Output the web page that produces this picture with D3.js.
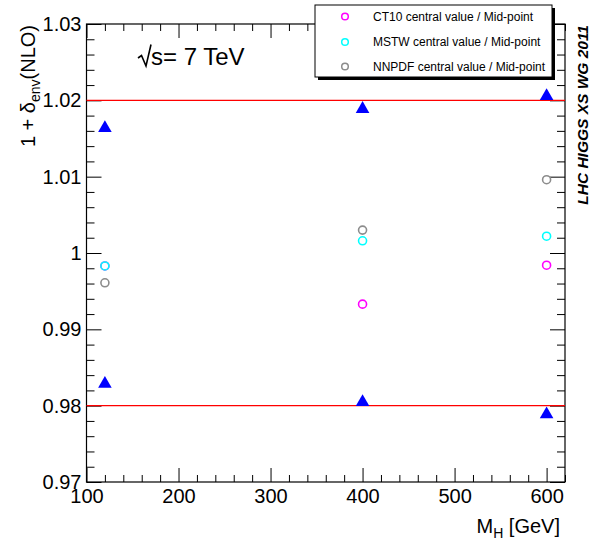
<!DOCTYPE html>
<html><head><meta charset="utf-8">
<script src="https://cdn.jsdelivr.net/npm/d3@7"></script>
<style>body{margin:0;background:#fff}svg{display:block}text{font-family:"Liberation Sans",Arial,Helvetica,sans-serif;fill:#000}</style>
</head><body>
<svg id="c" width="591" height="545"></svg>
<script>
const massPoints = [120, 400, 600];
const upperEnv = [1.0165, 1.0190, 1.0207];
const lowerEnv = [0.9830, 0.9806, 0.9790];
const ct10 = [0.9983, 0.9933, 0.9984];
const mstw = [0.9983, 1.0016, 1.0022];
const nnpdf = [0.9961, 1.0030, 1.0096];
const seriesNames = ["CT10 central value / Mid-point", "MSTW central value / Mid-point", "NNPDF central value / Mid-point"];
const seriesColors = ["#ff00ff", "#00ffff", "#8c8c8c"];
const refLines = [1.02, 0.98];
const xTicks = [100, 200, 300, 400, 500, 600];
const xTickLabels = ["100", "200", "300", "400", "500", "600"];
const yTicks = [0.97, 0.98, 0.99, 1.00, 1.01, 1.02, 1.03];
const yTickLabels = ["0.97", "0.98", "0.99", "1", "1.01", "1.02", "1.03"];

const svg = d3.select("#c");
svg.append("rect").attr("width", 591).attr("height", 545).attr("fill", "#fff");
const L = 86.5, R = 565, T = 24, B = 482;
const x = d3.scaleLinear().domain([100, 620]).range([L, R]);
const y = d3.scaleLinear().domain([0.97, 1.03]).range([B, T]);

const xMinor = d3.range(100, 621, 20).filter(v => v % 100 !== 0);
const yMinor = d3.range(0, 31).map(i => +(0.97 + i * 0.002).toFixed(3)).filter(v => Math.abs(Math.round(v * 100) - v * 100) > 1e-6);

function styleAxis(g) { g.select(".domain").remove(); g.selectAll("line").attr("stroke", "#000"); }

// bottom axis
svg.append("g").attr("transform", `translate(0,${B})`)
  .call(d3.axisBottom(x).tickValues(xTicks).tickSize(-14).tickPadding(7).tickFormat((d, i) => xTickLabels[i]))
  .call(styleAxis).call(g => g.selectAll("text").attr("font-size", 20).attr("font-family", "Liberation Sans, Arial"));
svg.append("g").attr("transform", `translate(0,${B})`)
  .call(d3.axisBottom(x).tickValues(xMinor).tickSize(-7).tickFormat(""))
  .call(styleAxis);
// top axis
svg.append("g").attr("transform", `translate(0,${T})`)
  .call(d3.axisTop(x).tickValues(xTicks).tickSize(-14).tickFormat("")).call(styleAxis);
svg.append("g").attr("transform", `translate(0,${T})`)
  .call(d3.axisTop(x).tickValues(xMinor).tickSize(-7).tickFormat("")).call(styleAxis);
// left axis
svg.append("g").attr("transform", `translate(${L},0)`)
  .call(d3.axisLeft(y).tickValues(yTicks).tickSize(-15).tickPadding(5).tickFormat((d, i) => yTickLabels[i]))
  .call(styleAxis).call(g => g.selectAll("text").attr("font-size", 20).attr("font-family", "Liberation Sans, Arial"));
svg.append("g").attr("transform", `translate(${L},0)`)
  .call(d3.axisLeft(y).tickValues(yMinor).tickSize(-8).tickFormat("")).call(styleAxis);
// right axis
svg.append("g").attr("transform", `translate(${R},0)`)
  .call(d3.axisRight(y).tickValues(yTicks).tickSize(-15).tickFormat("")).call(styleAxis);
svg.append("g").attr("transform", `translate(${R},0)`)
  .call(d3.axisRight(y).tickValues(yMinor).tickSize(-8).tickFormat("")).call(styleAxis);

// frame
svg.append("rect").attr("x", L).attr("y", T).attr("width", R - L).attr("height", B - T)
  .attr("fill", "none").attr("stroke", "#000").attr("stroke-width", 1.2);

// reference lines
svg.selectAll(".ref").data(refLines).join("line")
  .attr("x1", L).attr("x2", R).attr("y1", d => y(d)).attr("y2", d => y(d))
  .attr("stroke", "#ff0000").attr("stroke-width", 1.3);

// envelope triangles
const tri = d3.symbol().type(d3.symbolTriangle).size(80);
const envPts = massPoints.map((m, i) => [m, upperEnv[i]]).concat(massPoints.map((m, i) => [m, lowerEnv[i]]));
svg.selectAll(".tri").data(envPts).join("path")
  .attr("d", tri).attr("transform", d => `translate(${x(d[0])},${y(d[1]) + 1})`)
  .attr("fill", "#0000ff");

// circles
[ct10, mstw, nnpdf].forEach((vals, s) => {
  svg.selectAll(".c" + s).data(vals).join("circle")
    .attr("cx", (d, i) => x(massPoints[i])).attr("cy", d => y(d)).attr("r", 4)
    .attr("fill", "none").attr("stroke", seriesColors[s]).attr("stroke-width", 1.6);
});

// legend
const lg = svg.append("g");
lg.append("rect").attr("x", 318).attr("y", 8).attr("width", 237).attr("height", 72).attr("fill", "#000");
lg.append("rect").attr("x", 315).attr("y", 5).attr("width", 237).attr("height", 72).attr("fill", "#fff").attr("stroke", "#000").attr("stroke-width", 1);
const rowsY = [16.5, 42, 66.5];
seriesNames.forEach((n, i) => {
  lg.append("circle").attr("cx", 345).attr("cy", rowsY[i]).attr("r", 3.3).attr("fill", "none")
    .attr("stroke", seriesColors[i]).attr("stroke-width", 1.5);
  lg.append("text").attr("x", 373).attr("y", rowsY[i]).attr("dy", "0.35em").attr("font-size", 12).text(n);
});

// sqrt(s) label
svg.append("path").attr("d", "M138,58 L141.5,55.5 L146,66 L151,44.5")
  .attr("fill", "none").attr("stroke", "#000").attr("stroke-width", 1.6);
svg.append("text").attr("x", 151).attr("y", 65).attr("font-size", 24).text("s= 7 TeV");

// axis titles
const xt = svg.append("text").attr("x", 560).attr("y", 533).attr("text-anchor", "end").attr("font-size", 20);
xt.append("tspan").text("M");
xt.append("tspan").attr("font-size", 14).attr("dy", 5).text("H");
xt.append("tspan").attr("dy", -5).text(" [GeV]");

const yt = svg.append("text").attr("transform", "translate(35,25) rotate(-90)").attr("text-anchor", "end").attr("font-size", 20);
yt.append("tspan").text("1 + δ");
yt.append("tspan").attr("font-size", 14).attr("dy", 5).text("env");
yt.append("tspan").attr("dy", -5).text("(NLO)");

svg.append("text").attr("transform", "translate(588,25) rotate(-90)").attr("text-anchor", "end")
  .attr("font-size", 15.5).attr("font-weight", "bold").attr("font-style", "italic").text("LHC HIGGS XS WG 2011");
</script>
</body></html>
